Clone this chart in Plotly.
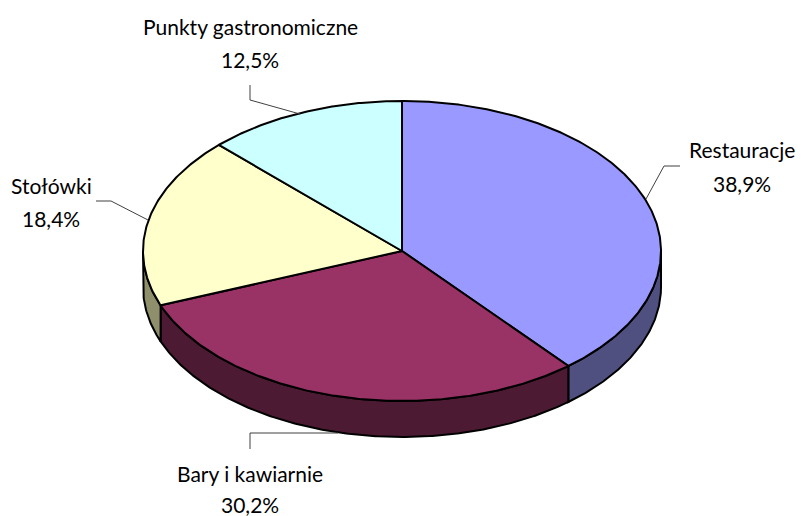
"""3D-looking pie chart: slices are drawn as filled ellipse sectors on pixel-sized axes."""
import numpy as np
import plotly.graph_objects as go

categories = ['Restauracje', 'Bary i kawiarnie', 'Stołówki', 'Punkty gastronomiczne']
shares = [38.9, 30.2, 18.4, 12.5]
top_colors = ['#9999FF', '#993366', '#FFFFCC', '#CCFFFF']
side_colors = ['#4F4F80', '#4C1A33', '#8F8F6B', '#6B8080']

W, H = 803, 516
CX, CY, RX, RY, DEPTH = 402, 251, 259, 150, 36
FONT = 'Lato'


def arc(a0, a1):
    # angles in degrees, clockwise from 12 o'clock
    t = np.radians(np.linspace(a0, a1, max(int(abs(a1 - a0) * 2), 2)))
    return CX + RX * np.sin(t), CY - RY * np.cos(t)


fig = go.Figure()


def add_poly(x, y, color):
    fig.add_trace(go.Scatter(x=x, y=y, mode='lines', fill='toself', fillcolor=color,
                             line=dict(color='black', width=2), hoverinfo='skip'))


edges = np.cumsum([0] + shares) / sum(shares) * 360

# side walls first, only the part facing the viewer (90..270 degrees)
for i in range(len(shares)):
    a0, a1 = max(edges[i], 90), min(edges[i + 1], 270)
    if a1 <= a0:
        continue
    x, y = arc(a0, a1)
    add_poly(np.r_[x, x[::-1], x[0]], np.r_[y, y[::-1] + DEPTH, y[0]], side_colors[i])

for i in range(len(shares)):
    x, y = arc(edges[i], edges[i + 1])
    add_poly(np.r_[CX, x, CX], np.r_[CY, y, CY], top_colors[i])

# leader lines
leaders = [
    ([680, 664, 646], [166, 166, 199]),
    ([250, 250, 338], [449, 433, 433]),
    ([96, 111, 148], [201, 201, 220]),
    ([250, 250, 300], [85, 100, 114]),
]
for lx, ly in leaders:
    fig.add_trace(go.Scatter(x=lx, y=ly, mode='lines', line=dict(color='#404040', width=1),
                             hoverinfo='skip'))

# label anchor: centre x, name y, value y
label_pos = [(742, 149, 183), (250, 473, 504), (51, 185, 218), (250, 26, 59)]
annotations = []
for name, share, (lx, y0, y1) in zip(categories, shares, label_pos):
    for text, y in ((name, y0), (f'{share:.1f}%'.replace('.', ','), y1)):
        annotations.append(dict(x=lx, y=y, text=text, showarrow=False, xanchor='center',
                                yanchor='middle', font=dict(family=FONT, size=21, color='black')))

fig.update_layout(
    width=W, height=H, margin=dict(l=0, r=0, t=0, b=0),
    paper_bgcolor='white', plot_bgcolor='white', showlegend=False,
    xaxis=dict(range=[0, W], visible=False, fixedrange=True),
    yaxis=dict(range=[H, 0], visible=False, fixedrange=True),
    annotations=annotations,
)
fig.write_html("out.html", config={'displayModeBar': False},
               post_script="document.body.style.margin='0';document.body.style.overflow='hidden';")
